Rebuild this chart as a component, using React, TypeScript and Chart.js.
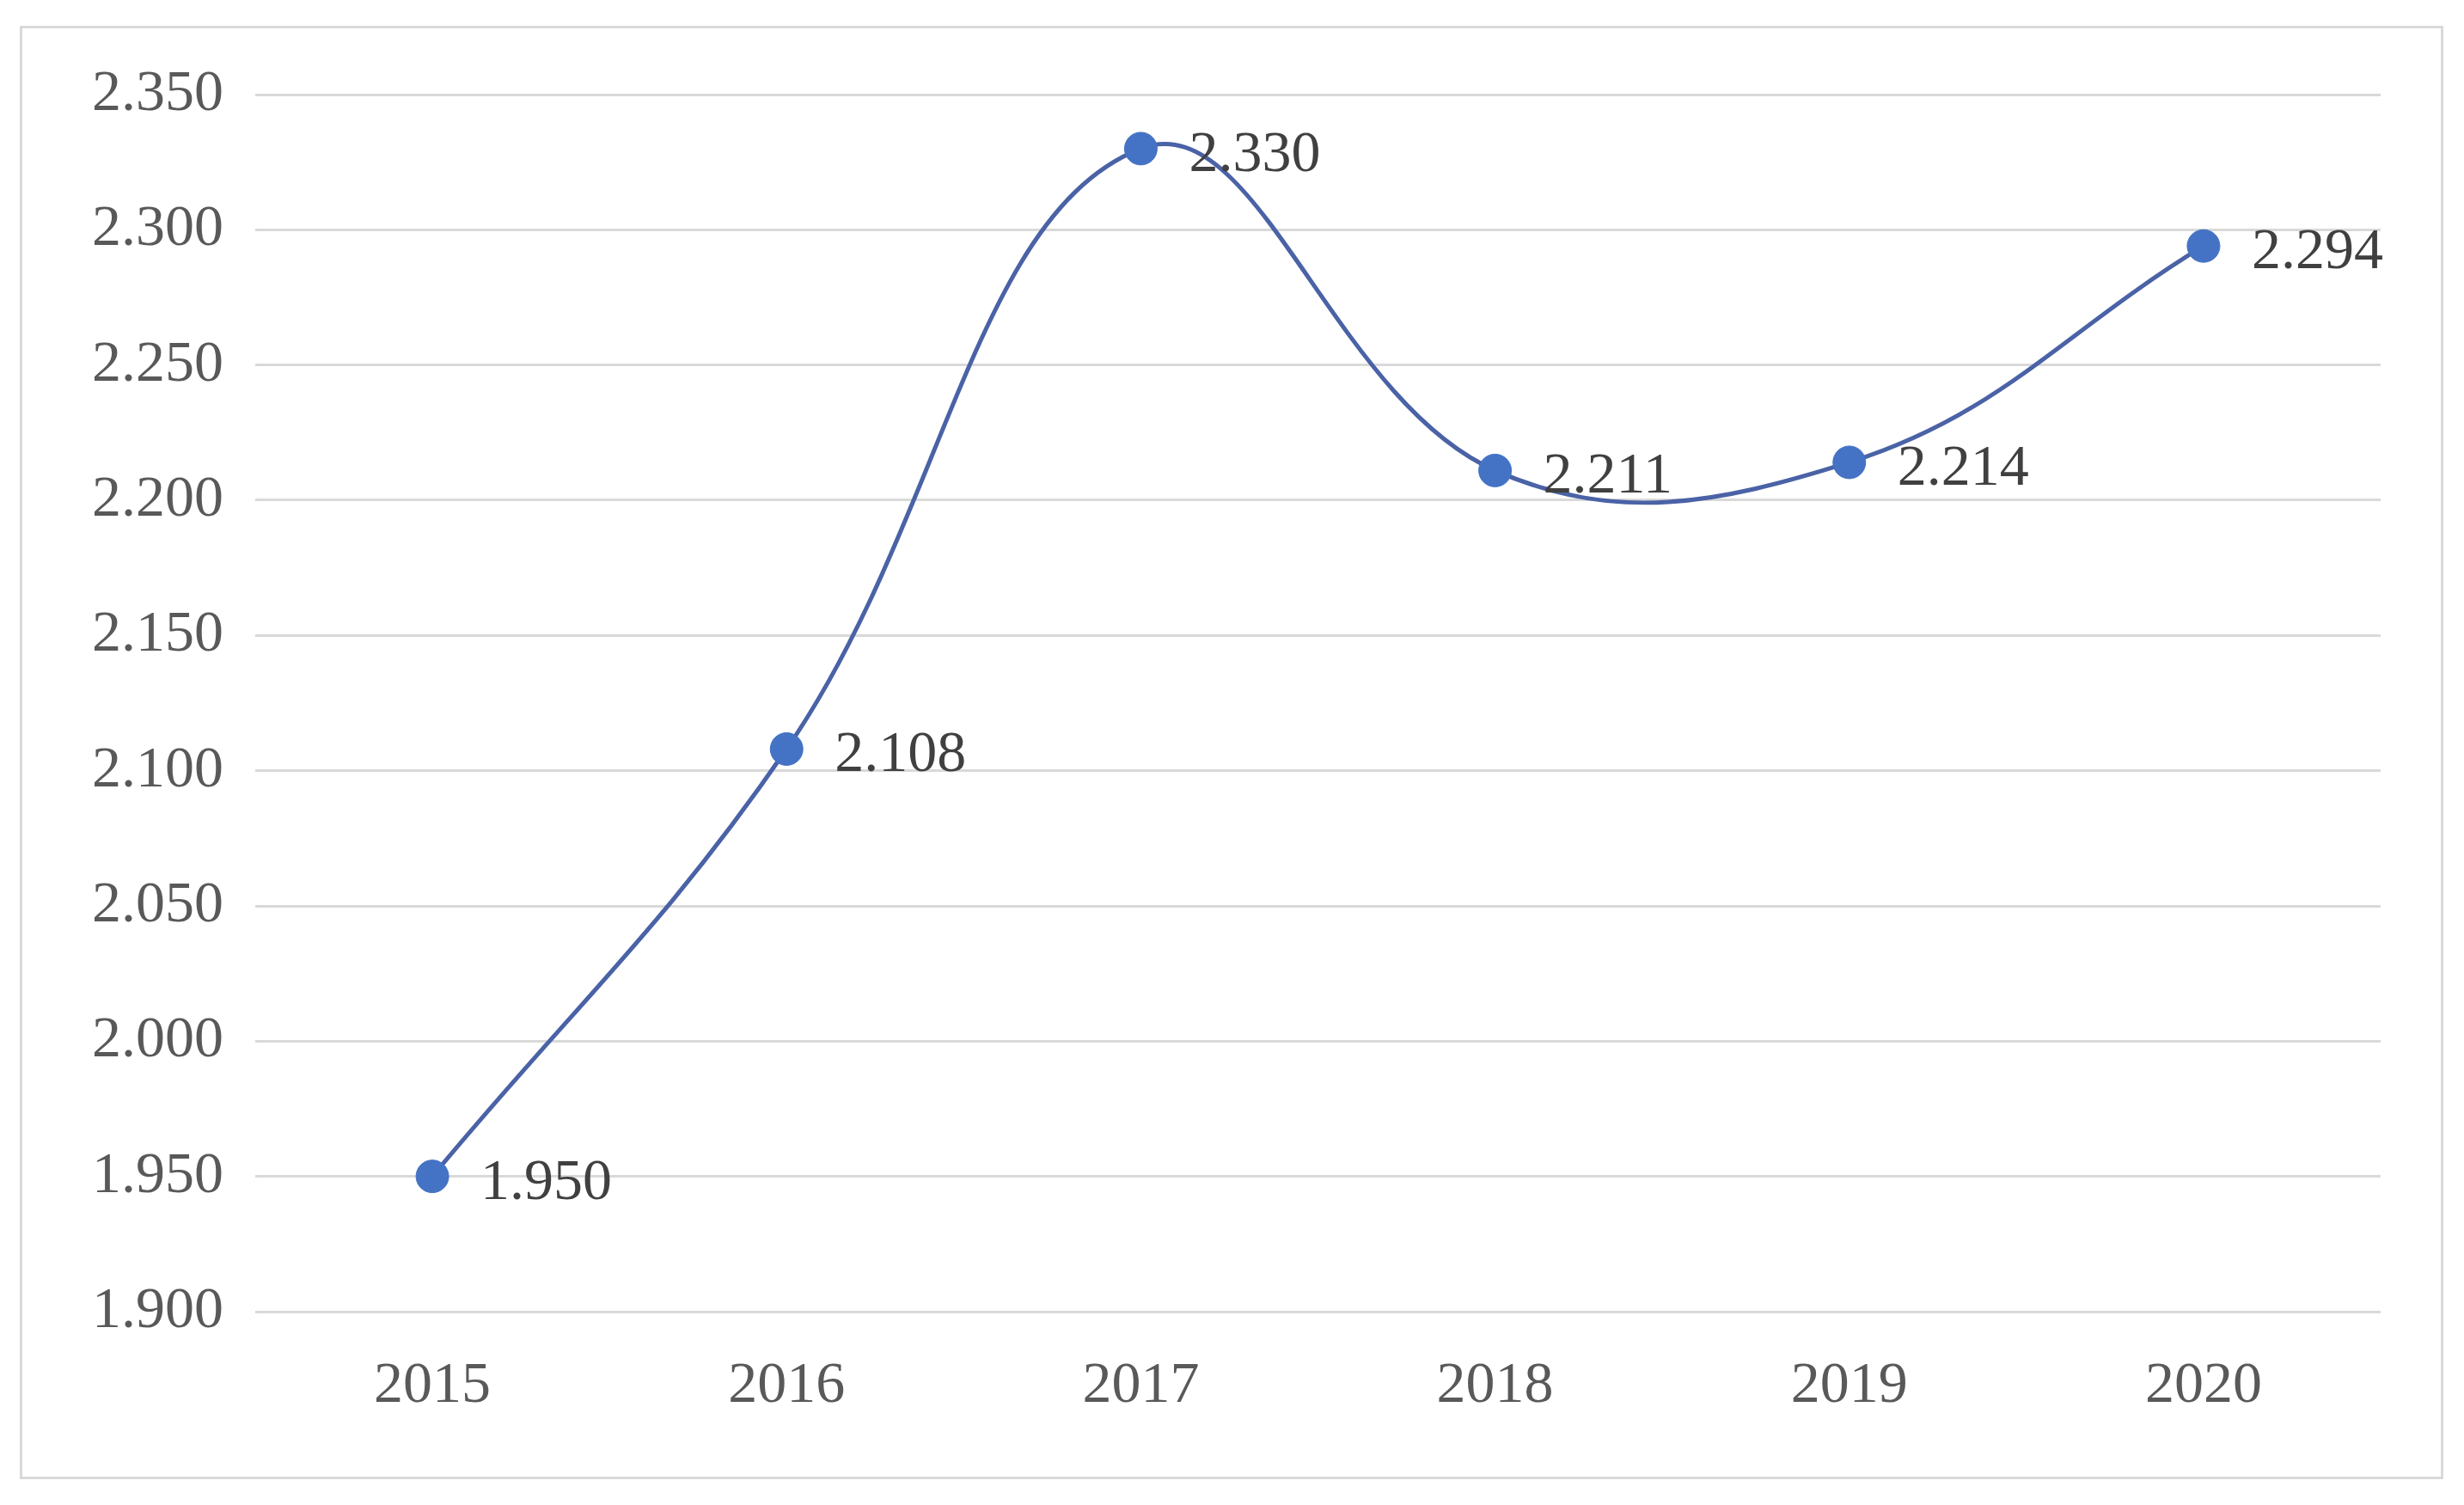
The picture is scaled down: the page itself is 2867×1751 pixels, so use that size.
import React, { useEffect, useRef } from "react";
import { Chart, registerables } from "chart.js";

Chart.register(...registerables);

const categories = ["2015", "2016", "2017", "2018", "2019", "2020"];
const values = [1.95, 2.108, 2.33, 2.211, 2.214, 2.294];
const yMin = 1.9;
const yMax = 2.35;
const yStep = 0.05;

const W = 2867;
const H = 1751;
const FONT = "'Liberation Serif', 'Times New Roman', serif";

const dataLabels = {
  id: "dataLabels",
  afterDatasetsDraw(chart: any) {
    const ctx = chart.ctx;
    const meta = chart.getDatasetMeta(0);
    ctx.save();
    ctx.font = `68px ${FONT}`;
    ctx.fillStyle = "#404040";
    ctx.textAlign = "left";
    ctx.textBaseline = "middle";
    meta.data.forEach((pt: any, i: number) => {
      ctx.fillText(values[i].toFixed(3), pt.x + 56, pt.y + 8);
    });
    ctx.restore();
  },
};

export default function App() {
  const ref = useRef<HTMLCanvasElement | null>(null);
  useEffect(() => {
    if (!ref.current) return;
    const chart = new Chart(ref.current, {
      type: "line",
      data: {
        labels: categories,
        datasets: [
          {
            data: values,
            borderColor: "#4A62A6",
            borderWidth: 5,
            tension: 0.4,
            pointRadius: 19,
            pointBorderWidth: 1,
            pointBackgroundColor: "#4472C4",
            pointBorderColor: "#4472C4",
            fill: false,
          },
        ],
      },
      options: {
        animation: false,
        responsive: false,
        devicePixelRatio: 1,
        layout: { padding: { left: 0, right: 97, top: 110, bottom: 0 } },
        plugins: {
          legend: { display: false },
          tooltip: { enabled: false },
        },
        scales: {
          x: {
            offset: true,
            grid: { display: false, drawTicks: false },
            border: { display: false },
            ticks: {
              padding: 46,
              color: "#595959",
              font: { family: FONT, size: 68 },
            },
            afterFit: (axis: any) => {
              axis.height = H - 1526;
            },
          },
          y: {
            min: yMin,
            max: yMax,
            grid: { color: "#d9d9d9", lineWidth: 3, drawTicks: false },
            border: { display: false },
            ticks: {
              stepSize: yStep,
              padding: 37,
              color: "#595959",
              font: { family: FONT, size: 68 },
              callback: (v: any) => Number(v).toFixed(3),
            },
            afterFit: (axis: any) => {
              axis.width = 297;
            },
          },
        },
      },
      plugins: [dataLabels],
    });
    return () => chart.destroy();
  }, []);

  return (
    <div style={{ position: "fixed", left: 0, top: 0, width: W, height: H, background: "#ffffff" }}>
      <div
        style={{
          position: "absolute",
          left: 23,
          top: 30,
          width: 2843 - 23 - 6,
          height: 1721 - 30 - 6,
          border: "3px solid #d9d9d9",
          background: "#ffffff",
        }}
      />
      <canvas
        ref={ref}
        width={W}
        height={H}
        style={{ position: "absolute", left: 0, top: 0, width: W, height: H }}
      />
    </div>
  );
}
